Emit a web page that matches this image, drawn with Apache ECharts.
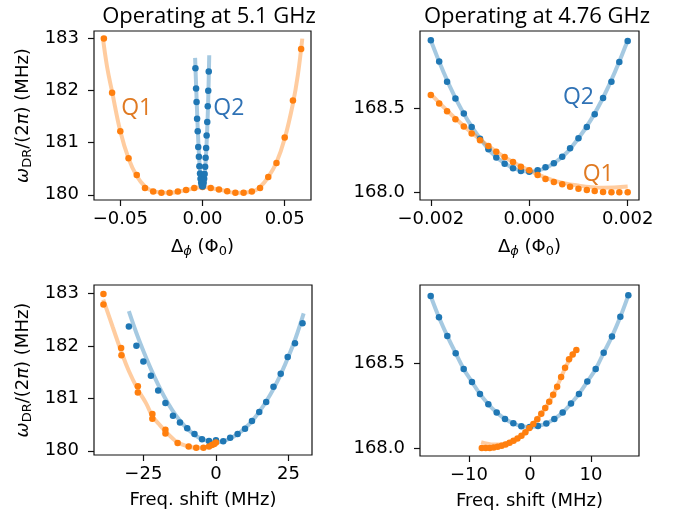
<!DOCTYPE html>
<html>
<head>
<meta charset="utf-8">
<script src="https://cdn.jsdelivr.net/npm/echarts@6/dist/echarts.min.js"></script>
<style>html,body{margin:0;padding:0;background:#fff}#c{width:684px;height:520px}</style>
</head>
<body>
<div id="c"></div>
<script>
// ---------- Panel 1: operating at 5.1 GHz, vs flux ----------
const p1Q1Flux = [-0.060,-0.055,-0.050,-0.045,-0.040,-0.035,-0.030,-0.025,-0.020,-0.015,-0.010,-0.005,0.000,0.005,0.010,0.015,0.020,0.025,0.030,0.035,0.040,0.045,0.050,0.055,0.060];
const p1Q1Freq = [183.00,181.96,181.22,180.70,180.38,180.13,180.065,180.04,180.04,180.065,180.09,180.13,180.15,180.13,180.10,180.07,180.04,180.04,180.065,180.13,180.34,180.61,181.10,181.81,182.80];
const p1Q1FitFlux = [-0.0607,-0.058,-0.055,-0.050,-0.045,-0.040,-0.035,-0.030,-0.020,-0.010,0.000,0.010,0.020,0.030,0.035,0.040,0.045,0.050,0.055,0.058,0.0607];
const p1Q1FitFreq = [183.04,182.45,181.98,181.22,180.70,180.36,180.16,180.07,180.04,180.09,180.15,180.10,180.04,180.06,180.15,180.34,180.62,181.08,181.75,182.30,183.00];
const p1Q2Flux = [-0.0043,-0.0039,-0.0036,-0.0033,-0.0029,-0.0026,-0.0022,-0.0019,-0.0015,-0.0012,-0.0008,-0.0004,0.0000,0.0003,0.0007,0.0010,0.0013,0.0016,0.0019,0.0022,0.0025,0.0029,0.0032,0.0035,0.0038];
const p1Q2Freq = [182.43,182.04,181.78,181.46,181.22,180.92,180.73,180.55,180.41,180.31,180.23,180.18,180.16,180.18,180.23,180.31,180.40,180.54,180.71,180.90,181.14,181.40,181.70,182.00,182.37];
const p1Q2FitFlux = [-0.0045,-0.0041,-0.0036,-0.0031,-0.0026,-0.0021,-0.0016,-0.0011,-0.0005,0.0000,0.0005,0.0011,0.0016,0.0021,0.0026,0.0031,0.0036,0.0041];
const p1Q2FitFreq = [182.63,182.28,181.85,181.43,181.05,180.74,180.50,180.32,180.20,180.16,180.20,180.32,180.50,180.74,181.06,181.45,181.98,182.68];

// ---------- Panel 2: operating at 4.76 GHz, vs flux ----------
const p2Flux = [-0.002,-0.00183,-0.00167,-0.0015,-0.00133,-0.00117,-0.001,-0.00083,-0.00067,-0.0005,-0.00033,-0.00017,0,0.00017,0.00033,0.0005,0.00067,0.00083,0.001,0.00117,0.00133,0.0015,0.00167,0.00183,0.002];
const p2Q2Freq = [168.907,168.78,168.66,168.56,168.47,168.39,168.32,168.256,168.208,168.17,168.143,168.127,168.123,168.131,168.149,168.173,168.212,168.262,168.323,168.39,168.466,168.563,168.66,168.777,168.902];
const p2Q1Freq = [168.581,168.53,168.484,168.436,168.393,168.351,168.311,168.276,168.242,168.21,168.18,168.152,168.131,168.103,168.079,168.061,168.048,168.033,168.021,168.014,168.008,168.002,168.0,168.0,168.0];
const p2Q2FitFlux = [-0.002,-0.0015,-0.001,-0.0005,0,0.0005,0.001,0.0015,0.002];
const p2Q2FitFreq = [168.905,168.562,168.321,168.172,168.123,168.172,168.322,168.564,168.905];
const p2Q1FitFlux = [-0.002,-0.0015,-0.001,-0.0005,0,0.0005,0.001,0.0015,0.002];
const p2Q1FitFreq = [168.585,168.44,168.315,168.21,168.13,168.07,168.04,168.027,168.034];

// ---------- Panel 3: operating at 5.1 GHz, vs frequency shift ----------
const p3Q1Shift = [-38.75,-38.75,-32.65,-32.55,-26.9,-26.9,-21.9,-21.9,-17.4,-17.4,-13.2,-9.4,-6.8,-4.3,-2.4,-1.4,-0.6,0];
const p3Q1Freq = [182.99,182.79,181.96,181.82,181.23,181.11,180.70,180.61,180.40,180.33,180.15,180.08,180.058,180.058,180.08,180.11,180.13,180.16];
const p3Q1FitShift = [-38.8,-35.5,-32.6,-30,-26.9,-24,-21.9,-19.5,-17.4,-15,-13.2,-10,-7,-4.3,-2.4,-1,0];
const p3Q1FitFreq = [182.88,182.35,181.89,181.52,181.17,180.90,180.66,180.50,180.37,180.24,180.16,180.09,180.06,180.06,180.08,180.11,180.16];
const p3Q2Shift = [-30.0,-27.4,-25.0,-22.4,-19.9,-17.4,-14.8,-12.4,-9.9,-7.4,-4.8,-2.4,0,2.5,4.9,7.45,10.0,12.4,14.9,17.3,19.8,22.3,24.7,27.2,29.8];
const p3Q2Freq = [182.37,182.0,181.70,181.43,181.15,180.91,180.67,180.54,180.43,180.32,180.22,180.185,180.20,180.18,180.25,180.32,180.42,180.57,180.74,180.93,181.22,181.47,181.79,182.05,182.43];
const p3Q2FitShift = [-30,-27.5,-25,-22.5,-20,-17.5,-15,-12.5,-10,-7.5,-5,-2.5,0,2.5,5,7.5,10,12.5,15,17.5,20,22.5,25,27.5,30.2];
const p3Q2FitFreq = [182.66,182.26,181.90,181.57,181.27,181.0,180.77,180.58,180.43,180.31,180.23,180.18,180.16,180.18,180.24,180.32,180.43,180.57,180.75,180.96,181.20,181.48,181.80,182.16,182.62];

// ---------- Panel 4: operating at 4.76 GHz, vs frequency shift ----------
const p4Q2Shift = [-16.28,-14.92,-13.55,-12.18,-10.87,-9.51,-8.2,-6.83,-5.46,-4.10,-2.73,-1.42,-0.05,1.31,2.68,3.99,5.36,6.72,8.03,9.4,10.77,12.08,13.44,14.81,16.12];
const p4Q2Freq = [168.899,168.773,168.662,168.561,168.468,168.391,168.32,168.259,168.21,168.172,168.146,168.129,168.125,168.13,168.145,168.172,168.21,168.263,168.32,168.393,168.468,168.563,168.66,168.776,168.903];
const p4Q1Shift = [-7.9,-7.25,-6.6,-5.95,-5.3,-4.65,-4.0,-3.35,-2.7,-2.05,-1.4,-0.75,-0.1,0.55,1.2,1.85,2.5,3.15,3.8,4.45,5.1,5.75,6.4,7.0,7.6];
const p4Q1Freq = [168.0,168.0,168.0,168.003,168.008,168.014,168.021,168.031,168.043,168.056,168.072,168.093,168.118,168.142,168.17,168.203,168.237,168.274,168.315,168.362,168.42,168.475,168.525,168.553,168.58];
const p4Q1FitShift = [-8.0,-7,-6,-5,-4,-3,-2,-1,0,1,2,3,4,5,6,7,7.7];
const p4Q1FitFreq = [168.035,168.026,168.021,168.021,168.028,168.04,168.058,168.085,168.125,168.163,168.21,168.265,168.33,168.41,168.49,168.553,168.59];

// ---------- ticks ----------
const xTicks = [[-0.05,0,0.05],[-0.002,0,0.002],[-25,0,25],[-10,0,10]];
const yTicks = [[180,181,182,183],[168.0,168.5],[180,181,182,183],[168.0,168.5]];

// ---------- annotations ----------
const notes = [
  {panel:0, text:'Q1', x:-0.040, y:181.65, color:'#e07a22'},
  {panel:0, text:'Q2', x:0.0160, y:181.65, color:'#2f72b5'},
  {panel:1, text:'Q2', x:0.0010, y:168.567, color:'#2f72b5'},
  {panel:1, text:'Q1', x:0.00140, y:168.109, color:'#e07a22'}
];

const ORANGE = '#ff7f0e', BLUE = '#1f77b4';
const TF = 'DejaVu Sans';
const zip = (a,b) => a.map((v,i)=>[v,b[i]]);
const minus = s => s.replace('-', '\u2212');

const grids = [
  {left:94, top:31, width:217, height:169},
  {left:420, top:31, width:219, height:169},
  {left:94, top:285, width:218, height:170},
  {left:420, top:285, width:219, height:171}
];
const xRange = [[-0.066,0.066],[-0.00222,0.00223],[-42.0,33.07],[-18.03,17.87]];
const yRange = [[179.9,183.146],[167.954,168.962],[179.92,183.16],[167.953,168.964]];
const xFmt = [v=>minus(v.toFixed(2)), v=>minus(v.toFixed(3)), v=>minus(v.toFixed(0)), v=>minus(v.toFixed(0))];
const yFmt = [v=>v.toFixed(0), v=>v.toFixed(1), v=>v.toFixed(0), v=>v.toFixed(1)];

const rich = {
  m:{fontFamily:TF, fontSize:18, color:'#000', lineHeight:22},
  mi:{fontFamily:TF, fontSize:18, fontStyle:'italic', color:'#000', lineHeight:22},
  s:{fontFamily:TF, fontSize:13, color:'#000', lineHeight:8, verticalAlign:'bottom'},
  si:{fontFamily:TF, fontSize:13, fontStyle:'italic', color:'#000', lineHeight:8, verticalAlign:'bottom'}
};
const xNames = ['{m|Δ}{si|ϕ}{m| (Φ}{s|0}{m|)}','{m|Δ}{si|ϕ}{m| (Φ}{s|0}{m|)}','Freq. shift (MHz)','Freq. shift (MHz)'];
const yNames = ['{mi|ω}{s|DR}{m|/(2}{mi|π}{m|) (MHz)}', null, '{mi|ω}{s|DR}{m|/(2}{mi|π}{m|) (MHz)}', null];

const xAxis = grids.map((g,i)=>({
  type:'value', gridIndex:i, min:xRange[i][0], max:xRange[i][1],
  axisLine:{show:false, onZero:false}, splitLine:{show:false},
  axisTick:{show:true, inside:false, length:6, customValues:xTicks[i], lineStyle:{color:'#111', width:1.2}},
  axisLabel:{customValues:xTicks[i], formatter:xFmt[i], fontFamily:TF, fontSize:18, color:'#000', margin:10},
  name:xNames[i], nameLocation:'middle', nameGap:36,
  nameTextStyle:{fontFamily:TF, fontSize:18, color:'#000', rich:rich}
}));
const yAxis = grids.map((g,i)=>({
  type:'value', gridIndex:i, min:yRange[i][0], max:yRange[i][1],
  axisLine:{show:false, onZero:false}, splitLine:{show:false},
  axisTick:{show:true, inside:false, length:6, customValues:yTicks[i], lineStyle:{color:'#111', width:1.2}},
  axisLabel:{customValues:yTicks[i], formatter:yFmt[i], fontFamily:TF, fontSize:18, color:'#000', margin:15},
  name:yNames[i] || '', nameLocation:'middle', nameGap:60, nameRotate:90,
  nameTextStyle:{fontFamily:TF, fontSize:18, color:'#000', rich:rich}
}));

function fit(i, xs, ys, color){
  return {type:'line', xAxisIndex:i, yAxisIndex:i, data:zip(xs,ys), showSymbol:false, smooth:0.4, z:1,
    lineStyle:{color:color, width:4, opacity:0.4}, silent:true, animation:false};
}
function pts(i, xs, ys, color){
  return {type:'scatter', xAxisIndex:i, yAxisIndex:i, data:zip(xs,ys), symbolSize:6.5, z:3,
    itemStyle:{color:color, opacity:1}, animation:false};
}
const series = [
  fit(0,p1Q1FitFlux,p1Q1FitFreq,ORANGE), fit(0,p1Q2FitFlux,p1Q2FitFreq,BLUE),
  pts(0,p1Q1Flux,p1Q1Freq,ORANGE), pts(0,p1Q2Flux,p1Q2Freq,BLUE),
  fit(1,p2Q2FitFlux,p2Q2FitFreq,BLUE), fit(1,p2Q1FitFlux,p2Q1FitFreq,ORANGE),
  pts(1,p2Flux,p2Q2Freq,BLUE), pts(1,p2Flux,p2Q1Freq,ORANGE),
  fit(2,p3Q1FitShift,p3Q1FitFreq,ORANGE), fit(2,p3Q2FitShift,p3Q2FitFreq,BLUE),
  pts(2,p3Q2Shift,p3Q2Freq,BLUE), pts(2,p3Q1Shift,p3Q1Freq,ORANGE),
  fit(3,p4Q2Shift,p4Q2Freq,BLUE), fit(3,p4Q1FitShift,p4Q1FitFreq,ORANGE),
  pts(3,p4Q2Shift,p4Q2Freq,BLUE), pts(3,p4Q1Shift,p4Q1Freq,ORANGE)
];
notes.forEach(n=>{
  series.push({type:'scatter', xAxisIndex:n.panel, yAxisIndex:n.panel, data:[[n.x,n.y]], symbolSize:1, z:4, silent:true, animation:false,
    itemStyle:{color:'rgba(0,0,0,0)'},
    label:{show:true, position:'inside', formatter:n.text, color:n.color, opacity:1, fontFamily:'Open Sans', fontSize:23}});
});

const chart = echarts.init(document.getElementById('c'), null, {renderer:'canvas'});
chart.setOption({
  backgroundColor:'#fff',
  animation:false,
  title:[
    {text:'Operating at 5.1 GHz', left:204, top:1, textAlign:'center', textStyle:{fontFamily:'Open Sans', fontSize:22, fontWeight:'normal', color:'#000'}},
    {text:'Operating at 4.76 GHz', left:532, top:1, textAlign:'center', textStyle:{fontFamily:'Open Sans', fontSize:22, fontWeight:'normal', color:'#000'}}
  ],
  grid:grids.map(g=>Object.assign({show:true, borderColor:'#111', borderWidth:1.2, backgroundColor:'transparent'}, g)),
  xAxis:xAxis, yAxis:yAxis, series:series
});
</script>
</body>
</html>
